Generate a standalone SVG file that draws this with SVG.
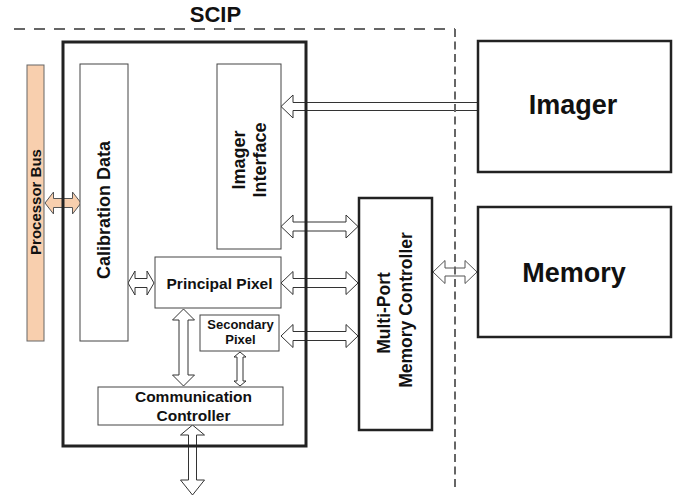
<svg xmlns="http://www.w3.org/2000/svg" width="680" height="497" viewBox="0 0 680 497">
<style>
text{font-family:"Liberation Sans",Arial,sans-serif;font-weight:bold;fill:#111;text-anchor:middle}
.arr{fill:#fff;stroke:#333;stroke-width:1}
.inner{fill:#fff;stroke:#444;stroke-width:1}
.thick{fill:#fff;stroke:#222;stroke-width:2.5}
</style>
<rect width="680" height="497" fill="#fff"/>
<g id="connectors">
<path class="arr" d="M281,106.5 L293,95 L293,102.5 L478,102.5 L478,110.5 L293,110.5 L293,118 Z"/>
<path class="arr" d="M281,226.5 L293,215 L293,222 L346,222 L346,215 L358,226.5 L346,238 L346,231 L293,231 L293,238 Z"/>
<path class="arr" d="M281,283 L293,271.5 L293,278.5 L346,278.5 L346,271.5 L358,283 L346,294.5 L346,287.5 L293,287.5 L293,294.5 Z"/>
<path class="arr" d="M281,336 L293,324.5 L293,331.5 L346,331.5 L346,324.5 L358,336 L346,347.5 L346,340.5 L293,340.5 L293,347.5 Z"/>
<path class="arr" style="stroke:#555" d="M433,272 L445,260.5 L445,268 L465,268 L465,260.5 L477,272 L465,283.5 L465,276 L445,276 L445,283.5 Z"/>
<path class="arr" style="fill:#f8cfae;stroke:#555" d="M45,203 L53.5,192 L53.5,198.5 L72.5,198.5 L72.5,192 L81,203 L72.5,214 L72.5,207.5 L53.5,207.5 L53.5,214 Z"/>
<path class="arr" d="M128,283 L135,271 L135,278.5 L147,278.5 L147,271 L154,283 L147,295 L147,287.5 L135,287.5 L135,295 Z"/>
<path class="arr" d="M183.5,309 L194.5,320 L188,320 L188,375 L194.5,375 L183.5,386 L172.5,375 L179,375 L179,320 L172.5,320 Z"/>
<path class="arr" d="M240,352 L246,357 L243,357 L243,381 L246,381 L240,386 L234,381 L237,381 L237,357 L234,357 Z"/>
<path class="arr" d="M192.5,425 L204.5,435 L196.5,435 L196.5,480 L204.5,480 L192.5,495 L180.5,480 L188.5,480 L188.5,435 L180.5,435 Z"/>
</g>
<g id="processor-bus">
<rect x="27" y="65" width="17" height="276" fill="#f8cfae" stroke="#666" stroke-width="1"/>
<text transform="translate(40.5,202) rotate(-90)" font-size="15">Processor Bus</text>
</g>
<g id="calibration-data">
<rect class="inner" x="80" y="64" width="48" height="277"/>
<text transform="translate(110,210) rotate(-90)" font-size="18">Calibration Data</text>
</g>
<g id="imager-interface">
<rect class="inner" x="217" y="64" width="64" height="185"/>
<text transform="translate(245,160) rotate(-90)" font-size="18">Imager</text>
<text transform="translate(266,160) rotate(-90)" font-size="18">Interface</text>
</g>
<g id="principal-pixel">
<rect class="inner" x="155" y="257" width="126" height="51"/>
<text x="219.5" y="289" font-size="15.5">Principal Pixel</text>
</g>
<g id="secondary-pixel">
<rect class="inner" x="200" y="315" width="79" height="36"/>
<text x="240.5" y="329" font-size="13">Secondary</text>
<text x="240.5" y="344" font-size="13">Pixel</text>
</g>
<g id="communication-controller">
<rect class="inner" x="98" y="387" width="185" height="38"/>
<text x="193.5" y="402" font-size="15.5">Communication</text>
<text x="193.5" y="421" font-size="15.5">Controller</text>
</g>
<g id="scip">
<rect x="63" y="42" width="243" height="404" fill="none" stroke="#222" stroke-width="3"/>
</g>
<g id="multi-port-memory-controller">
<rect class="thick" x="359" y="198" width="73" height="232"/>
<text transform="translate(390,313) rotate(-90)" font-size="17.5">Multi-Port</text>
<text transform="translate(412,310) rotate(-90)" font-size="17.5">Memory Controller</text>
</g>
<g id="imager">
<rect class="thick" x="478" y="41" width="193" height="131"/>
<text x="573" y="114" font-size="27">Imager</text>
</g>
<g id="memory">
<rect class="thick" x="478" y="207" width="193" height="130"/>
<text x="574" y="282" font-size="27">Memory</text>
</g>
<g id="scip-boundary">
<path d="M14,29 H455" fill="none" stroke="#666" stroke-width="2" stroke-dasharray="11 9"/>
<path d="M455,29 V487" fill="none" stroke="#666" stroke-width="2" stroke-dasharray="8 4.5"/>
<text x="215.5" y="22" font-size="22">SCIP</text>
</g>
</svg>
